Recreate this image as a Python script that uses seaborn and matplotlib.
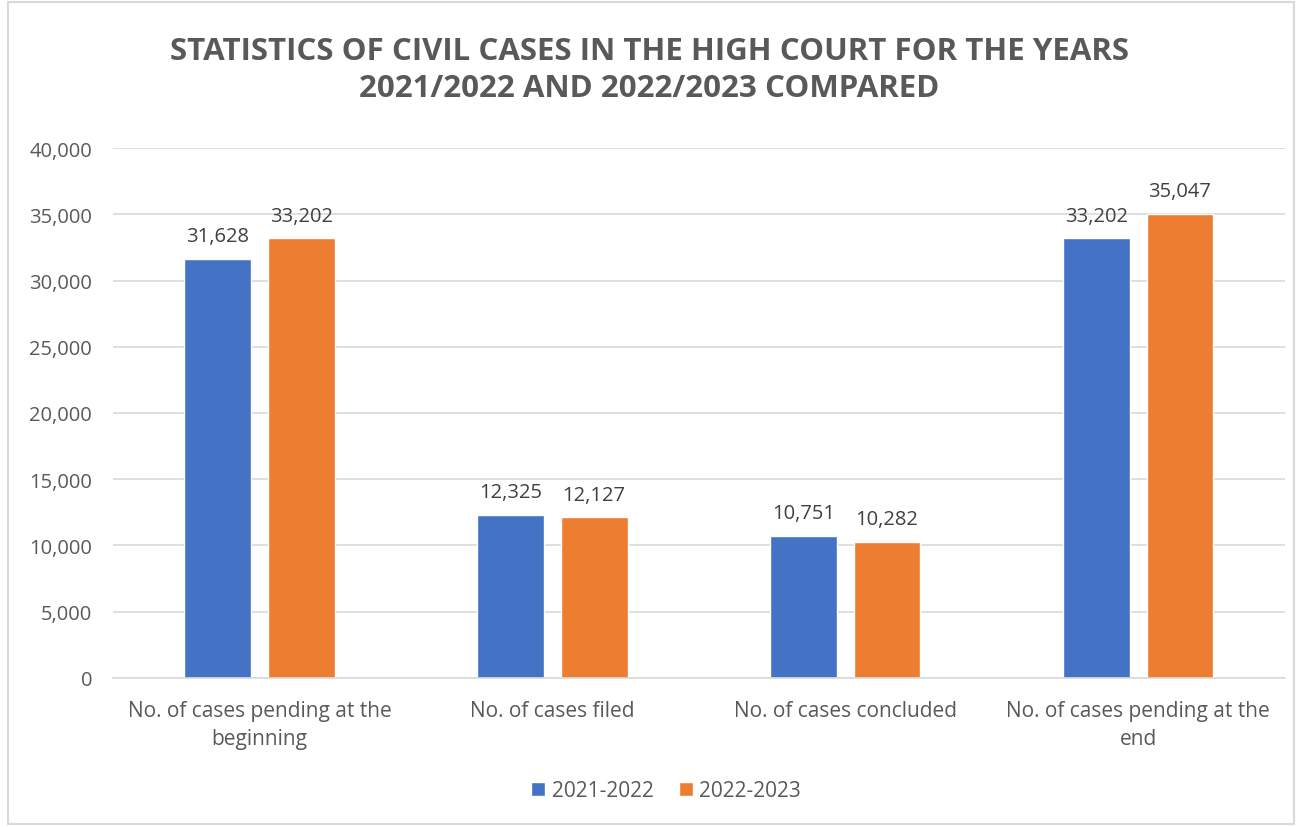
import pandas as pd
import matplotlib
matplotlib.use("Agg")
import matplotlib.pyplot as plt
import seaborn as sns
from matplotlib.patches import Rectangle

categories = ["No. of cases pending at the\nbeginning", "No. of cases filed",
              "No. of cases concluded", "No. of cases pending at the\nend"]
periods = ["2021-2022", "2022-2023"]
cases_2021_2022 = [31628, 12325, 10751, 33202]
cases_2022_2023 = [33202, 12127, 10282, 35047]

data = pd.DataFrame({
    "Category": categories * 2,
    "Period": [periods[0]] * 4 + [periods[1]] * 4,
    "Cases": cases_2021_2022 + cases_2022_2023,
})

sns.set_theme(style="white")
plt.rcParams["font.family"] = ["Open Sans", "DejaVu Sans"]
text_col = "#595959"
grid_col = "#d9d9d9"

fig = plt.figure(figsize=(12.99, 8.28), dpi=100)
ax = fig.add_axes([0.087, 0.18, 0.902, 0.64])

sns.barplot(data=data, x="Category", y="Cases", hue="Period",
            palette=["#4472C4", "#ED7D31"], width=0.57, gap=0.2,
            saturation=1, ax=ax, legend=True)

for cont in ax.containers:
    ax.bar_label(cont, labels=[f"{v:,.0f}" for v in cont.datavalues],
                 padding=9, fontsize=14.5, color="#404040")

ax.set_ylim(0, 40000)
ax.set_yticks(range(0, 40001, 5000))
ax.set_yticklabels([f"{v:,}" for v in range(0, 40001, 5000)])
ax.set_xlim(-0.5, 3.5)
ax.yaxis.grid(True, color=grid_col, linewidth=1.2)
ax.set_axisbelow(True)
for s in ["left", "right", "top"]:
    ax.spines[s].set_visible(False)
ax.spines["bottom"].set_color(grid_col)
ax.spines["bottom"].set_linewidth(1.2)
ax.tick_params(axis="both", length=0, colors=text_col)
ax.tick_params(axis="y", pad=15, labelsize=14.5)
ax.tick_params(axis="x", pad=16, labelsize=15)
for t in ax.get_xticklabels():
    t.set_linespacing(1.45)
ax.set_xlabel("")
ax.set_ylabel("")

handles, labels = ax.get_legend_handles_labels()
ax.get_legend().remove()
fig.legend(handles, labels, loc="center", bbox_to_anchor=(0.5127, 1 - 792 / 828),
           ncol=2, frameon=False, fontsize=15, handlelength=0.67, handleheight=0.67,
           handletextpad=0.3, columnspacing=1.2, labelcolor=text_col)

fig.suptitle("STATISTICS OF CIVIL CASES IN THE HIGH COURT FOR THE YEARS\n2021/2022 AND 2022/2023 COMPARED",
             y=0.955, fontsize=22.5, fontweight="bold", color=text_col, linespacing=1.3)

fig.patches.append(Rectangle((0.006, 0.004), 0.99, 0.992, transform=fig.transFigure,
                             fill=False, edgecolor=grid_col, linewidth=1.5))

fig.savefig("out.png", dpi=100)
